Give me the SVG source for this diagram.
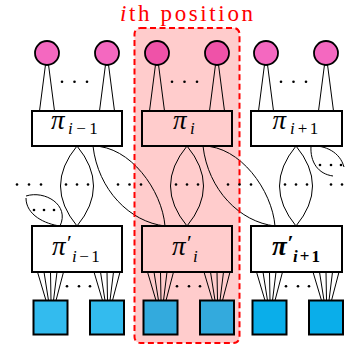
<svg xmlns="http://www.w3.org/2000/svg" width="350" height="347" viewBox="0 0 350 347">
<style>
.ln{fill:none;stroke:#000;stroke-width:1}
.bx{stroke:#000;stroke-width:2}
.w{fill:#fff}
.p{fill:#ffcccc}
.c1{fill:#f468c0;stroke:#000;stroke-width:1.8}
.c2{fill:#ef52a8;stroke:#000;stroke-width:1.8}
.s1{fill:#33bbee;stroke:#000;stroke-width:2}
.s2{fill:#33aadd;stroke:#000;stroke-width:2}
.s3{fill:#0aaeea;stroke:#000;stroke-width:2}
.lb{font-family:"Liberation Serif",serif;fill:#000}
.pi{font-style:italic;font-size:27px}
.sb{font-size:17px}
.pr{font-size:22px}
.it{font-style:italic}
.bd{font-weight:bold}
</style>
<defs>
<circle id="d" r="1.3" fill="#000"/>
</defs>
<rect x="134.5" y="28" width="105" height="315" rx="6" fill="#ffcccc"/>
<text x="120" y="20.5" font-family="Liberation Serif,serif" font-size="23" fill="#ff0000" textLength="133" lengthAdjust="spacing"><tspan font-style="italic">i</tspan>th position</text>
<g id="connectors">
<path class="ln" d="M47,53L39.5,111M47,53L54.5,111M107,53L99.5,111M107,53L114.5,111"/>
<path class="ln" d="M157,53L149.5,111M157,53L164.5,111M217,53L209.5,111M217,53L224.5,111"/>
<path class="ln" d="M266,53L258.5,111M266,53L273.5,111M326,53L318.5,111M326,53L333.5,111"/>
<path class="ln" d="M77,146Q44,186 77,226Q110,186 77,146"/>
<path class="ln" d="M187,146Q154,186 187,226Q220,186 187,146"/>
<path class="ln" d="M296,146Q263,186 296,226Q329,186 296,146"/>
<path class="ln" d="M93,146C130,146 162,190 165,226M93,146C98,190 130,222 165,226"/>
<path class="ln" d="M203,146C240,146 272,190 275,226M203,146C208,190 240,222 275,226"/>
<path class="ln" d="M311,146C325,145 340,152 344,167M311,146C310,162 318,174 333,176"/>
<path class="ln" d="M26,196C45,190 70,205 60,226M26,198C26,215 45,224 60,226"/>
<path class="ln" d="M37.5,272L46,300.5M44,272L48.5,300.5M50.5,272L51,300.5M57,272L53.5,300.5M63.5,272L56,300.5"/>
<path class="ln" d="M94,272L102.5,300.5M100.5,272L105,300.5M107,272L107.5,300.5M113.5,272L110,300.5M120,272L112.5,300.5"/>
<path class="ln" d="M147.5,272L156,300.5M154,272L158.5,300.5M160.5,272L161,300.5M167,272L163.5,300.5M173.5,272L166,300.5"/>
<path class="ln" d="M204,272L212.5,300.5M210.5,272L215,300.5M217,272L217.5,300.5M223.5,272L220,300.5M230,272L222.5,300.5"/>
<path class="ln" d="M256.5,272L265,300.5M263,272L267.5,300.5M269.5,272L270,300.5M276,272L272.5,300.5M282.5,272L275,300.5"/>
<path class="ln" d="M313,272L321.5,300.5M319.5,272L324,300.5M326,272L326.5,300.5M332.5,272L329,300.5M339,272L331.5,300.5"/>
</g>
<rect x="134.5" y="28" width="105" height="315" rx="6" fill="none" stroke="#ff0000" stroke-width="2" stroke-dasharray="6,3.5"/>
<g id="dots">
<use href="#d" x="62" y="81.7"/><use href="#d" x="74.5" y="81.7"/><use href="#d" x="87" y="81.7"/>
<use href="#d" x="172" y="81.7"/><use href="#d" x="184.5" y="81.7"/><use href="#d" x="197" y="81.7"/>
<use href="#d" x="281" y="81.7"/><use href="#d" x="293.5" y="81.7"/><use href="#d" x="306" y="81.7"/>
<use href="#d" x="17" y="184.5"/><use href="#d" x="29" y="184.5"/><use href="#d" x="41" y="184.5"/>
<use href="#d" x="66" y="184.5"/><use href="#d" x="77" y="184.5"/><use href="#d" x="88" y="184.5"/>
<use href="#d" x="118" y="184.5"/><use href="#d" x="129.5" y="184.5"/><use href="#d" x="141" y="184.5"/>
<use href="#d" x="176" y="184.5"/><use href="#d" x="187" y="184.5"/><use href="#d" x="198" y="184.5"/>
<use href="#d" x="228" y="184.5"/><use href="#d" x="239.5" y="184.5"/><use href="#d" x="251" y="184.5"/>
<use href="#d" x="285" y="184.5"/><use href="#d" x="296" y="184.5"/><use href="#d" x="307" y="184.5"/>
<use href="#d" x="331" y="184.5"/><use href="#d" x="342" y="184.5"/>
<use href="#d" x="320" y="165"/><use href="#d" x="331" y="165"/><use href="#d" x="341" y="165"/>
<use href="#d" x="34" y="210"/><use href="#d" x="44" y="210"/><use href="#d" x="54" y="210"/>
<use href="#d" x="67" y="286.3"/><use href="#d" x="79" y="286.3"/><use href="#d" x="90" y="286.3"/>
<use href="#d" x="177" y="286.3"/><use href="#d" x="189" y="286.3"/><use href="#d" x="200" y="286.3"/>
<use href="#d" x="286" y="286.3"/><use href="#d" x="298" y="286.3"/><use href="#d" x="309" y="286.3"/>
</g>
<g id="n-a1"><circle class="c1" cx="47" cy="53" r="12"/></g>
<g id="n-a2"><circle class="c1" cx="107" cy="53" r="12"/></g>
<g id="n-b1"><circle class="c2" cx="157" cy="53" r="12"/></g>
<g id="n-b2"><circle class="c2" cx="217" cy="53" r="12"/></g>
<g id="n-c1"><circle class="c1" cx="266" cy="53" r="12"/></g>
<g id="n-c2"><circle class="c1" cx="326" cy="53" r="12"/></g>
<g id="n-pi-im1"><rect class="bx w" x="32" y="111" width="90" height="35"/>
<text class="lb"><tspan class="pi" x="51" y="128.5">π</tspan><tspan class="sb" x="68" y="134"><tspan class="it">i</tspan><tspan dx="3.5">−</tspan><tspan dx="3.5">1</tspan></tspan></text></g>
<g id="n-pi-i"><rect class="bx p" x="142" y="111" width="90" height="35"/>
<text class="lb"><tspan class="pi" x="173" y="128.5">π</tspan><tspan class="sb it" x="190" y="134">i</tspan></text></g>
<g id="n-pi-ip1"><rect class="bx w" x="251" y="111" width="91" height="35"/>
<text class="lb"><tspan class="pi" x="272.5" y="128.5">π</tspan><tspan class="sb" x="290" y="134"><tspan class="it">i</tspan><tspan dx="3">+</tspan><tspan dx="2.5">1</tspan></tspan></text></g>
<g id="n-pp-im1"><rect class="bx w" x="32" y="226" width="90" height="46"/>
<text class="lb"><tspan class="pi" x="52" y="255">π</tspan><tspan class="pr" x="67" y="249.5">′</tspan><tspan class="sb" x="72" y="261.5"><tspan class="it">i</tspan><tspan dx="2.5">−</tspan><tspan dx="2.5">1</tspan></tspan></text></g>
<g id="n-pp-i"><rect class="bx p" x="142" y="226" width="90" height="46"/>
<text class="lb"><tspan class="pi" x="172" y="255">π</tspan><tspan class="pr" x="187" y="249.5">′</tspan><tspan class="sb it" x="193" y="261.5">i</tspan></text></g>
<g id="n-pp-ip1"><rect class="bx w" x="251" y="226" width="91" height="46"/>
<text class="lb bd"><tspan class="pi" x="272" y="255">π</tspan><tspan class="pr" x="287.5" y="249.5">′</tspan><tspan class="sb" x="293" y="261.5"><tspan class="it">i</tspan><tspan dx="2">+</tspan><tspan dx="2">1</tspan></tspan></text></g>
<g id="n-s1"><rect class="s1" x="33.5" y="300.5" width="34" height="34"/></g>
<g id="n-s2"><rect class="s1" x="90" y="300.5" width="34" height="34"/></g>
<g id="n-s3"><rect class="s2" x="143.5" y="300.5" width="34" height="34"/></g>
<g id="n-s4"><rect class="s2" x="200" y="300.5" width="34" height="34"/></g>
<g id="n-s5"><rect class="s3" x="252.5" y="300.5" width="34" height="34"/></g>
<g id="n-s6"><rect class="s3" x="309" y="300.5" width="34" height="34"/></g>
</svg>
